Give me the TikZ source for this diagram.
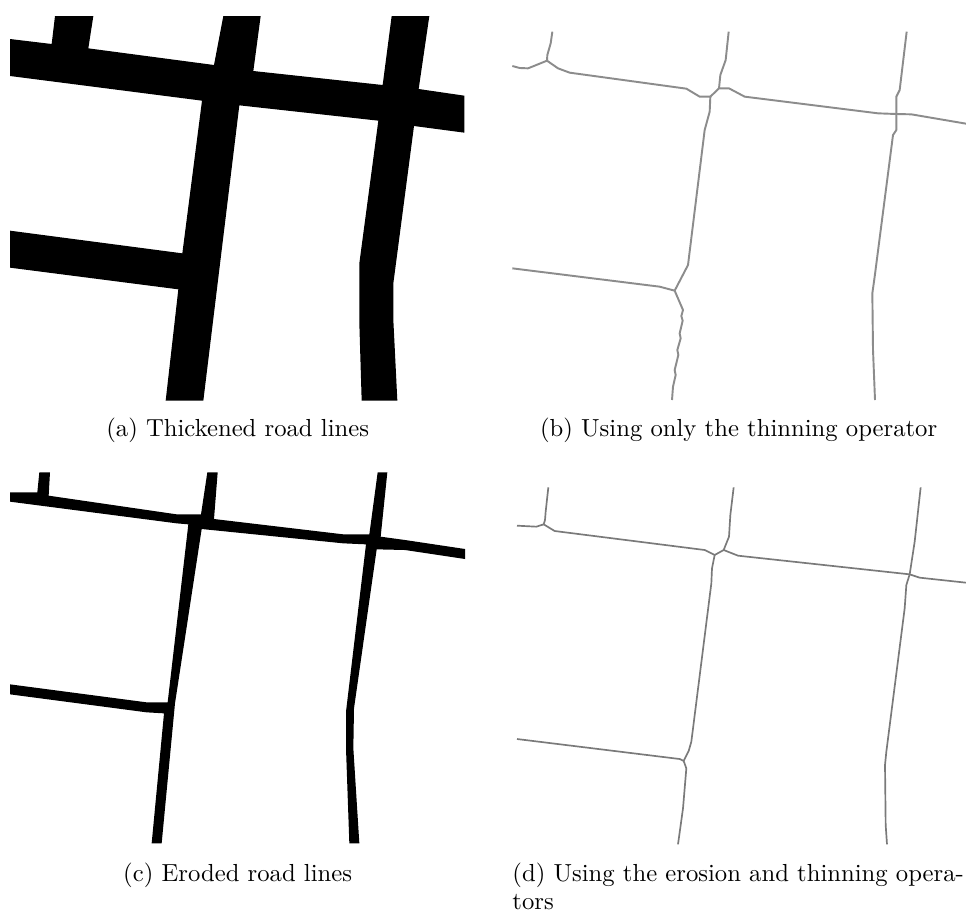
\documentclass[tikz,border=0pt]{standalone}
\usepackage{tikz}
\definecolor{thinroad}{HTML}{8C8C8C}
\definecolor{thinroaddark}{HTML}{7A7A7A}
\begin{document}
\begin{tikzpicture}[x=0.1389pt, y=-0.1389pt,
      roadfill/.style={fill=black, draw=none},
      thinline/.style={draw=thinroad, line width=0.8pt, line join=round},
      thindark/.style={thinline, draw=thinroaddark, line width=0.7pt},
      subcap/.style={anchor=base, font=\fontsize{10.28}{11.9}\selectfont, inner sep=0pt}]
    \useasboundingbox[fill=white] (0,0) rectangle (2898,2733);
    % (a)
    \fill[roadfill] (30,117) -- (155,132) -- (165,48) -- (280,48) -- (265,145) -- (642,195) -- (670,48)
      -- (782,48) -- (760,213) -- (1148,255) -- (1175,48) -- (1288,48) -- (1256,267) -- (1393,287)
      -- (1393,398) -- (1242,378) -- (1180,850) -- (1180,960) -- (1192,1202) -- (1085,1202)
      -- (1078,970) -- (1078,790) -- (1135,362) -- (718,316) -- (610,1202) -- (497,1202)
      -- (535,868) -- (30,803) -- (30,692) -- (547,760) -- (606,302) -- (30,228) -- cycle;
    \node[subcap] (capa) at (713,1310) {(a) Thickened road lines};
    % (b)
    \begin{scope}[shift={(1449,0)}]
      \coordinate (bnw) at (192,182);
      \coordinate (bnl) at (682,290);
      \coordinate (bnr) at (708,265);
      \coordinate (bsw) at (575,872);
      \coordinate (bne) at (1240,342);
      \draw[thinline] (88,198) -- (110,204) -- (135,205) -- (155,197) -- (bnw);
      \draw[thinline] (208,95) -- (203,130) -- (193,165) -- (bnw);
      \draw[thinline] (bnw) -- (225,205) -- (260,218) -- (610,266) -- (650,290) -- (bnl);
      \draw[thinline] (bnl) -- (bnr) -- (738,265) -- (785,290) -- (1185,340) -- (bne) -- (1285,343) -- (1449,371);
      \draw[thinline] (737,95) -- (728,180) -- (712,225) -- (bnr);
      \draw[thinline] (bnl) -- (680,335) -- (665,390) -- (615,795) -- (bsw);
      \draw[thinline] (88,805) -- (530,860) -- (bsw);
      \draw[thinline] (bsw) -- (600,930) -- (595,948) -- (599,962) -- (590,1000) -- (593,1015) -- (583,1050)
        -- (586,1065) -- (575,1110) -- (578,1125) -- (570,1160) -- (567,1200);
      \draw[thinline] (1271,95) -- (1250,270) -- (1240,290) -- (bne) -- (1240,390) -- (1230,405) -- (1175,830)
        -- (1168,880) -- (1170,1050) -- (1176,1200);
      \node[subcap] (capb) at (767,1310) {(b) Using only the thinning operator};
    \end{scope}
    % (c)
    \begin{scope}[shift={(0,1365)}]
      \fill[roadfill] (30,112) -- (112,112) -- (118,52) -- (150,52) -- (146,122) -- (530,178) -- (603,178)
        -- (622,52) -- (653,52) -- (642,192) -- (1030,238) -- (1108,238) -- (1133,52) -- (1162,52)
        -- (1142,245) -- (1215,255) -- (1395,282) -- (1395,312) -- (1215,285) -- (1130,283)
        -- (1062,760) -- (1060,880) -- (1078,1165) -- (1048,1165) -- (1038,880) -- (1038,770)
        -- (1098,268) -- (1030,265) -- (605,222) -- (525,745) -- (485,1165) -- (455,1165) -- (492,775)
        -- (440,772) -- (30,718) -- (30,688) -- (440,742) -- (503,742) -- (565,208) -- (530,205)
        -- (30,140) -- cycle;
      \node[subcap] (capc) at (713,1278) {(c) Eroded road lines};
    \end{scope}
    % (d)
    \begin{scope}[shift={(1449,1365)}]
      \coordinate (dnw) at (182,208);
      \coordinate (dnl) at (695,300);
      \coordinate (dnr) at (722,285);
      \coordinate (dsw) at (602,918);
      \coordinate (dne) at (1280,358);
      \draw[thindark] (102,212) -- (160,215) -- (dnw);
      \draw[thindark] (196,97) -- (188,170) -- (186,195) -- (dnw);
      \draw[thindark] (dnw) -- (215,228) -- (665,285) -- (dnl);
      \draw[thindark] (dnl) -- (dnr) -- (765,302) -- (dne) -- (1310,368) -- (1449,383);
      \draw[thindark] (752,97) -- (742,180) -- (738,245) -- (dnr);
      \draw[thindark] (dnl) -- (687,340) -- (685,385) -- (625,860) -- (617,888) -- (dsw);
      \draw[thindark] (102,852) -- (590,912) -- (dsw);
      \draw[thindark] (dsw) -- (610,940) -- (600,1060) -- (585,1168);
      \draw[thindark] (1313,97) -- (1295,260) -- (dne) -- (1270,390) -- (1265,460) -- (1210,890) -- (1206,930)
        -- (1208,1110) -- (1212,1168);
      \node[subcap, anchor=north west, align=left] (capd) at (87,1222) {(d) Using the erosion and thinning opera-\\tors};
    \end{scope}
  \end{tikzpicture}
\end{document}
